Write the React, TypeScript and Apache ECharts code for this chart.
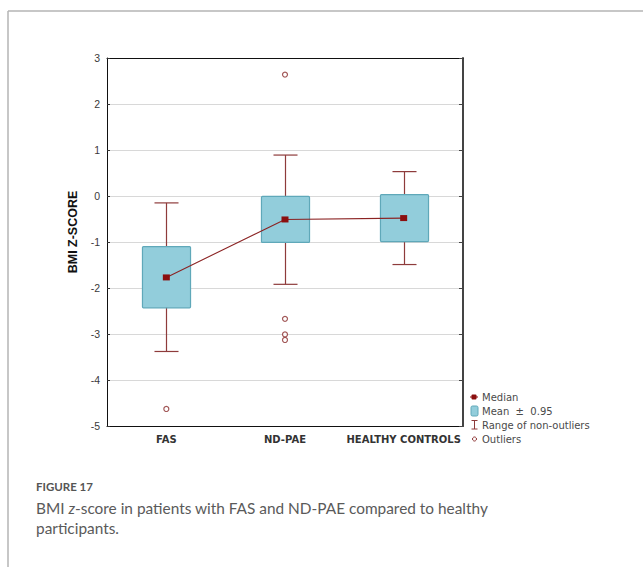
import { useEffect, useRef } from "react";
import * as echarts from "echarts";

// Box-and-whisker summary of BMI z-scores per group
const categories = ["FAS", "ND-PAE", "HEALTHY CONTROLS"];
const whiskerLow = [-3.38, -1.92, -1.49];
const boxLow = [-2.43, -1.01, -0.99];
const medians = [-1.77, -0.51, -0.48];
const boxHigh = [-1.1, -0.01, 0.03];
const whiskerHigh = [-0.15, 0.89, 0.53];
const outliers: [number, number][] = [
  [0, -4.63],
  [1, 2.64],
  [1, -2.67],
  [1, -3.01],
  [1, -3.13],
];
const yMin = -5;
const yMax = 3;
const legendLabels = ["Median", "Mean  \u00b1  0.95", "Range of non-outliers", "Outliers"];

const WHISKER = "#8e3b3b";
const MEDIAN = "#8b0f0f";
const BOX_FILL = "#92cddb";
const BOX_STROKE = "#5fa8b9";
const TEXT = "#4a4a4a";

export default function App() {
  const ref = useRef<HTMLDivElement>(null);

  useEffect(() => {
    if (!ref.current) return;
    const chart = echarts.init(ref.current, undefined, { renderer: "svg" });

    const boxData = categories.map((_, i) => [
      i,
      whiskerLow[i],
      boxLow[i],
      medians[i],
      boxHigh[i],
      whiskerHigh[i],
    ]);

    const legendX = 482;
    const legendY = [397, 411, 425, 439];

    chart.setOption({
      animation: false,
      backgroundColor: "#ffffff",
      grid: {
        left: 107,
        top: 58,
        width: 356,
        height: 368,
        outerBoundsMode: "none",
      },
      xAxis: [
        {
          type: "category",
          data: categories,
          position: "bottom",
          boundaryGap: true,
          axisLine: { onZero: false, lineStyle: { color: "#111", width: 1 } },
          axisTick: { inside: true, alignWithLabel: true, length: 3, lineStyle: { color: "#333" } },
          axisLabel: {
            interval: 0,
            color: "#333",
            fontFamily: "DejaVu Sans",
            fontWeight: "bold",
            fontSize: 10,
            margin: 8,
          },
          splitLine: { show: false },
        },
        {
          type: "category",
          data: categories,
          position: "top",
          boundaryGap: true,
          axisLine: { onZero: false, lineStyle: { color: "#111", width: 1 } },
          axisTick: { inside: true, alignWithLabel: true, length: 3, lineStyle: { color: "#333" } },
          axisLabel: { show: false },
          splitLine: { show: false },
        },
      ],
      yAxis: [
        {
          type: "value",
          position: "left",
          min: yMin,
          max: yMax,
          interval: 1,
          axisLine: { show: true, onZero: false, lineStyle: { color: "#111", width: 1 } },
          axisTick: { show: true, inside: true, length: 3, lineStyle: { color: "#333" } },
          axisLabel: {
            color: "#3a3a3a",
            fontFamily: "Liberation Sans",
            fontSize: 10.5,
            margin: 7,
          },
          splitLine: { show: true, lineStyle: { color: "#d8d8d8", width: 1 } },
        },
        {
          type: "value",
          position: "right",
          min: yMin,
          max: yMax,
          interval: 1,
          axisLine: { show: true, onZero: false, lineStyle: { color: "#444", width: 2 } },
          axisTick: { show: true, inside: true, length: 4, lineStyle: { color: "#444" } },
          axisLabel: { show: false },
          splitLine: { show: false },
        },
      ],
      series: [
        {
          type: "custom",
          xAxisIndex: 0,
          yAxisIndex: 0,
          data: boxData,
          encode: { x: 0, y: [1, 2, 3, 4, 5] },
          z: 2,
          renderItem: (_params: any, api: any) => {
            const i = api.value(0);
            const lo = api.coord([i, api.value(1)]);
            const q1 = api.coord([i, api.value(2)]);
            const q3 = api.coord([i, api.value(4)]);
            const hi = api.coord([i, api.value(5)]);
            const band = api.size([1, 0])[0];
            const bw = band * 0.405;
            const cw = bw * 0.5;
            const x = Math.round(lo[0]) + 0.5;
            const ws = { stroke: WHISKER, lineWidth: 1.2 };
            return {
              type: "group",
              children: [
                { type: "line", shape: { x1: x, y1: hi[1], x2: x, y2: lo[1] }, style: ws },
                { type: "line", shape: { x1: x - cw / 2, y1: hi[1], x2: x + cw / 2, y2: hi[1] }, style: ws },
                { type: "line", shape: { x1: x - cw / 2, y1: lo[1], x2: x + cw / 2, y2: lo[1] }, style: ws },
                {
                  type: "rect",
                  shape: { x: x - bw / 2, y: q3[1], width: bw, height: q1[1] - q3[1], r: 1 },
                  style: { fill: BOX_FILL, stroke: BOX_STROKE, lineWidth: 1.2 },
                },
              ],
            };
          },
        },
        {
          type: "line",
          xAxisIndex: 0,
          yAxisIndex: 0,
          data: medians,
          z: 3,
          symbol: "rect",
          symbolSize: [7, 6],
          lineStyle: { color: "#8b2323", width: 1.1 },
          itemStyle: { color: MEDIAN },
        },
        {
          type: "scatter",
          xAxisIndex: 0,
          yAxisIndex: 0,
          data: outliers,
          z: 3,
          symbol: "circle",
          symbolSize: 5,
          itemStyle: { color: "#ffffff", borderColor: "#8b2e2e", borderWidth: 1.2 },
        },
      ],
      graphic: [
        // outer frame
        {
          type: "line",
          shape: { x1: 8, y1: 11, x2: 643, y2: 11 },
          style: { stroke: "#b4b4b4", lineWidth: 1.5 },
        },
        {
          type: "line",
          shape: { x1: 8, y1: 11, x2: 8, y2: 567 },
          style: { stroke: "#b4b4b4", lineWidth: 1.5 },
        },
        // y-axis title
        {
          type: "text",
          x: 73,
          y: 232,
          rotation: Math.PI / 2,
          style: {
            text: "BMI Z-SCORE",
            fill: "#111",
            font: "bold 12.5px 'Liberation Sans', Arial, sans-serif",
            align: "center",
            verticalAlign: "middle",
          },
        },
        // legend icons
        {
          type: "line",
          shape: { x1: 470, y1: legendY[0], x2: 478, y2: legendY[0] },
          style: { stroke: MEDIAN, lineWidth: 1 },
        },
        {
          type: "rect",
          shape: { x: 471.5, y: legendY[0] - 2.5, width: 5, height: 5, r: 1 },
          style: { fill: MEDIAN },
        },
        {
          type: "rect",
          shape: { x: 471, y: legendY[1] - 5, width: 7, height: 10, r: 1.5 },
          style: { fill: BOX_FILL, stroke: BOX_STROKE, lineWidth: 1 },
        },
        {
          type: "line",
          shape: { x1: 474.5, y1: legendY[2] - 4.5, x2: 474.5, y2: legendY[2] + 4 },
          style: { stroke: WHISKER, lineWidth: 1 },
        },
        {
          type: "line",
          shape: { x1: 471.5, y1: legendY[2] - 4.5, x2: 477.5, y2: legendY[2] - 4.5 },
          style: { stroke: WHISKER, lineWidth: 1 },
        },
        {
          type: "line",
          shape: { x1: 471.5, y1: legendY[2] + 4, x2: 477.5, y2: legendY[2] + 4 },
          style: { stroke: WHISKER, lineWidth: 1 },
        },
        {
          type: "circle",
          shape: { cx: 474.5, cy: legendY[3], r: 2 },
          style: { fill: "#fff", stroke: "#8b2e2e", lineWidth: 1 },
        },
        // legend texts
        ...legendLabels.map((t, k) => ({
          type: "text",
          x: legendX,
          y: legendY[k],
          style: {
            text: t,
            fill: TEXT,
            font: "10px 'DejaVu Sans', sans-serif",
            verticalAlign: "middle",
          },
        })),
        // caption
        {
          type: "text",
          x: 36,
          y: 486,
          style: {
            text: "FIGURE 17",
            fill: "#555",
            font: "bold 11.5px Lato, sans-serif",
            verticalAlign: "middle",
          },
        },
        {
          type: "text",
          x: 36,
          y: 508,
          style: {
            text: "{a|BMI }{i|z}{a|-score in patients with FAS and ND-PAE compared to healthy}",
            verticalAlign: "middle",
            rich: {
              a: { fontFamily: "Lato", fontSize: 15.4, fill: "#5a5a5a", color: "#5a5a5a" },
              i: { fontFamily: "Lato", fontSize: 15.4, fontStyle: "italic", fill: "#5a5a5a", color: "#5a5a5a" },
            },
          },
        },
        {
          type: "text",
          x: 36,
          y: 528,
          style: {
            text: "participants.",
            fill: "#5a5a5a",
            font: "15.4px Lato, sans-serif",
            verticalAlign: "middle",
          },
        },
      ],
    });

    return () => chart.dispose();
  }, []);

  return (
    <div
      ref={ref}
      style={{ position: "fixed", left: 0, top: 0, width: 643, height: 567 }}
    />
  );
}
